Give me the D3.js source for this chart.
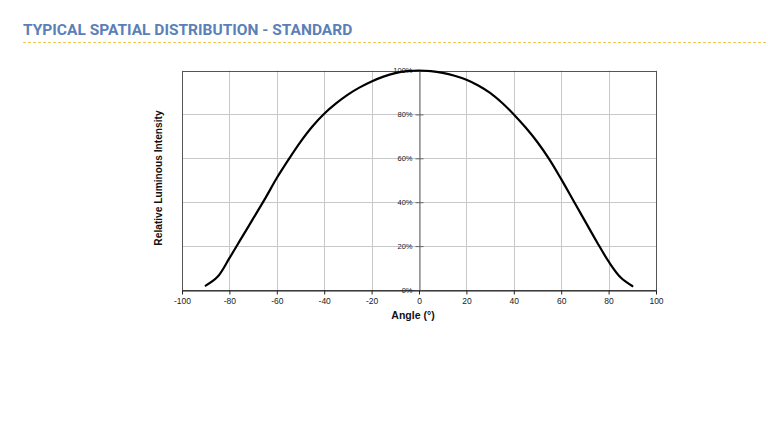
<!DOCTYPE html>
<html>
<head>
<meta charset="utf-8">
<script src="https://cdn.jsdelivr.net/npm/d3@7"></script>
<style>
  body { margin: 0; background: #fff; }
  svg { display: block; }
</style>
</head>
<body>
<div id="chart"></div>
<script>
// angle in degrees, relative intensity in %
var angles = [-90, -85, -80, -75, -70, -65, -60, -55, -50, -45, -40, -35, -30, -25, -20, -15, -10, -5, 0,
              5, 10, 15, 20, 25, 30, 35, 40, 45, 50, 55, 60, 65, 70, 75, 80, 85, 90];
var intensity = [2, 6, 14.5, 23.5, 32.5, 41.5, 51, 59.5, 67.5, 74.5, 80.3, 85, 89, 92.3, 95, 97.2, 98.8, 99.7, 100,
                 99.7, 98.9, 97.6, 95.8, 93.2, 89.8, 85.3, 80, 74, 67.3, 59.5, 50.5, 41, 31.5, 22, 13, 5.8, 1.8];
var xTicks = [-100, -80, -60, -40, -20, 0, 20, 40, 60, 80, 100];
var yTicks = [0, 20, 40, 60, 80, 100];

var W = 768, H = 442;
var svg = d3.select("#chart").append("svg").attr("width", W).attr("height", H);

// heading
svg.append("text")
    .attr("x", 23).attr("y", 35)
    .attr("font-family", "Roboto, sans-serif")
    .attr("font-weight", "bold")
    .attr("font-size", "15.5px")
    .attr("fill", "#5b80b8")
    .text("TYPICAL SPATIAL DISTRIBUTION - STANDARD");
svg.append("line")
    .attr("x1", 23).attr("x2", W).attr("y1", 42.5).attr("y2", 42.5)
    .attr("stroke", "#f0c850").attr("stroke-width", 1)
    .attr("stroke-dasharray", "3,2");

var x = d3.scaleLinear().domain([-100, 100]).range([182, 656]);
var y = d3.scaleLinear().domain([0, 100]).range([290, 70.5]);

var g = svg.append("g");

// grid
g.selectAll(".vg").data(xTicks).enter().append("line")
    .attr("x1", function (d) { return Math.round(x(d)) + 0.5; })
    .attr("x2", function (d) { return Math.round(x(d)) + 0.5; })
    .attr("y1", y(100)).attr("y2", y(0))
    .attr("stroke", "#c8c8c8");
g.selectAll(".hg").data(yTicks).enter().append("line")
    .attr("x1", x(-100)).attr("x2", x(100))
    .attr("y1", function (d) { return Math.round(y(d)) + 0.5; })
    .attr("y2", function (d) { return Math.round(y(d)) + 0.5; })
    .attr("stroke", "#c8c8c8");

// frame
g.append("rect")
    .attr("x", Math.round(x(-100)) + 0.5).attr("y", Math.round(y(100)) + 0.5)
    .attr("width", Math.round(x(100)) - Math.round(x(-100)))
    .attr("height", Math.round(y(0)) - Math.round(y(100)))
    .attr("fill", "none").attr("stroke", "#555");

// y axis sits at angle 0
var yAxis = d3.axisLeft(y).tickValues(yTicks).tickSizeInner(4).tickSizeOuter(0)
    .tickFormat(function (d) { return d + "%"; });
var ya = g.append("g").attr("transform", "translate(" + (Math.round(x(0)) + 0.5) + ",0)").call(yAxis);
ya.select(".domain").attr("stroke", "#666");
ya.selectAll(".tick line").attr("stroke", "#666").attr("x1", 4).attr("x2", -4);
ya.selectAll(".tick text")
    .attr("x", -7).attr("font-family", "Liberation Sans, Arial, sans-serif")
    .attr("font-size", "7.5px").attr("fill", "#222");

var xAxis = d3.axisBottom(x).tickValues(xTicks).tickSizeInner(4).tickSizeOuter(0)
    .tickFormat(function (d) { return String(d); });
var xa = g.append("g").attr("transform", "translate(0," + (Math.round(y(0)) + 0.5) + ")").call(xAxis);
xa.select(".domain").attr("stroke", "#222");
xa.selectAll(".tick line").attr("stroke", "#222");
xa.selectAll(".tick text")
    .attr("y", 7).attr("font-family", "Liberation Sans, Arial, sans-serif")
    .attr("font-size", "8.5px").attr("fill", "#222");

// curve
var pts = angles.map(function (a, i) { return [a, intensity[i]]; });
var line = d3.line()
    .x(function (d) { return x(d[0]); })
    .y(function (d) { return y(d[1]); })
    .curve(d3.curveCatmullRom.alpha(0.5));
g.append("path")
    .datum(pts)
    .attr("d", line)
    .attr("fill", "none")
    .attr("stroke", "#000")
    .attr("stroke-width", 2.2)
    .attr("stroke-linecap", "round");

// axis titles
svg.append("text")
    .attr("x", x(0) - 6).attr("y", 319)
    .attr("text-anchor", "middle")
    .attr("font-family", "Liberation Sans, Arial, sans-serif")
    .attr("font-weight", "bold").attr("font-size", "10.5px").attr("fill", "#111")
    .text("Angle (°)");
svg.append("text")
    .attr("transform", "translate(162,178) rotate(-90)")
    .attr("text-anchor", "middle")
    .attr("font-family", "Liberation Sans, Arial, sans-serif")
    .attr("font-weight", "bold").attr("font-size", "10.2px").attr("fill", "#111")
    .text("Relative Luminous Intensity");
</script>
</body>
</html>
